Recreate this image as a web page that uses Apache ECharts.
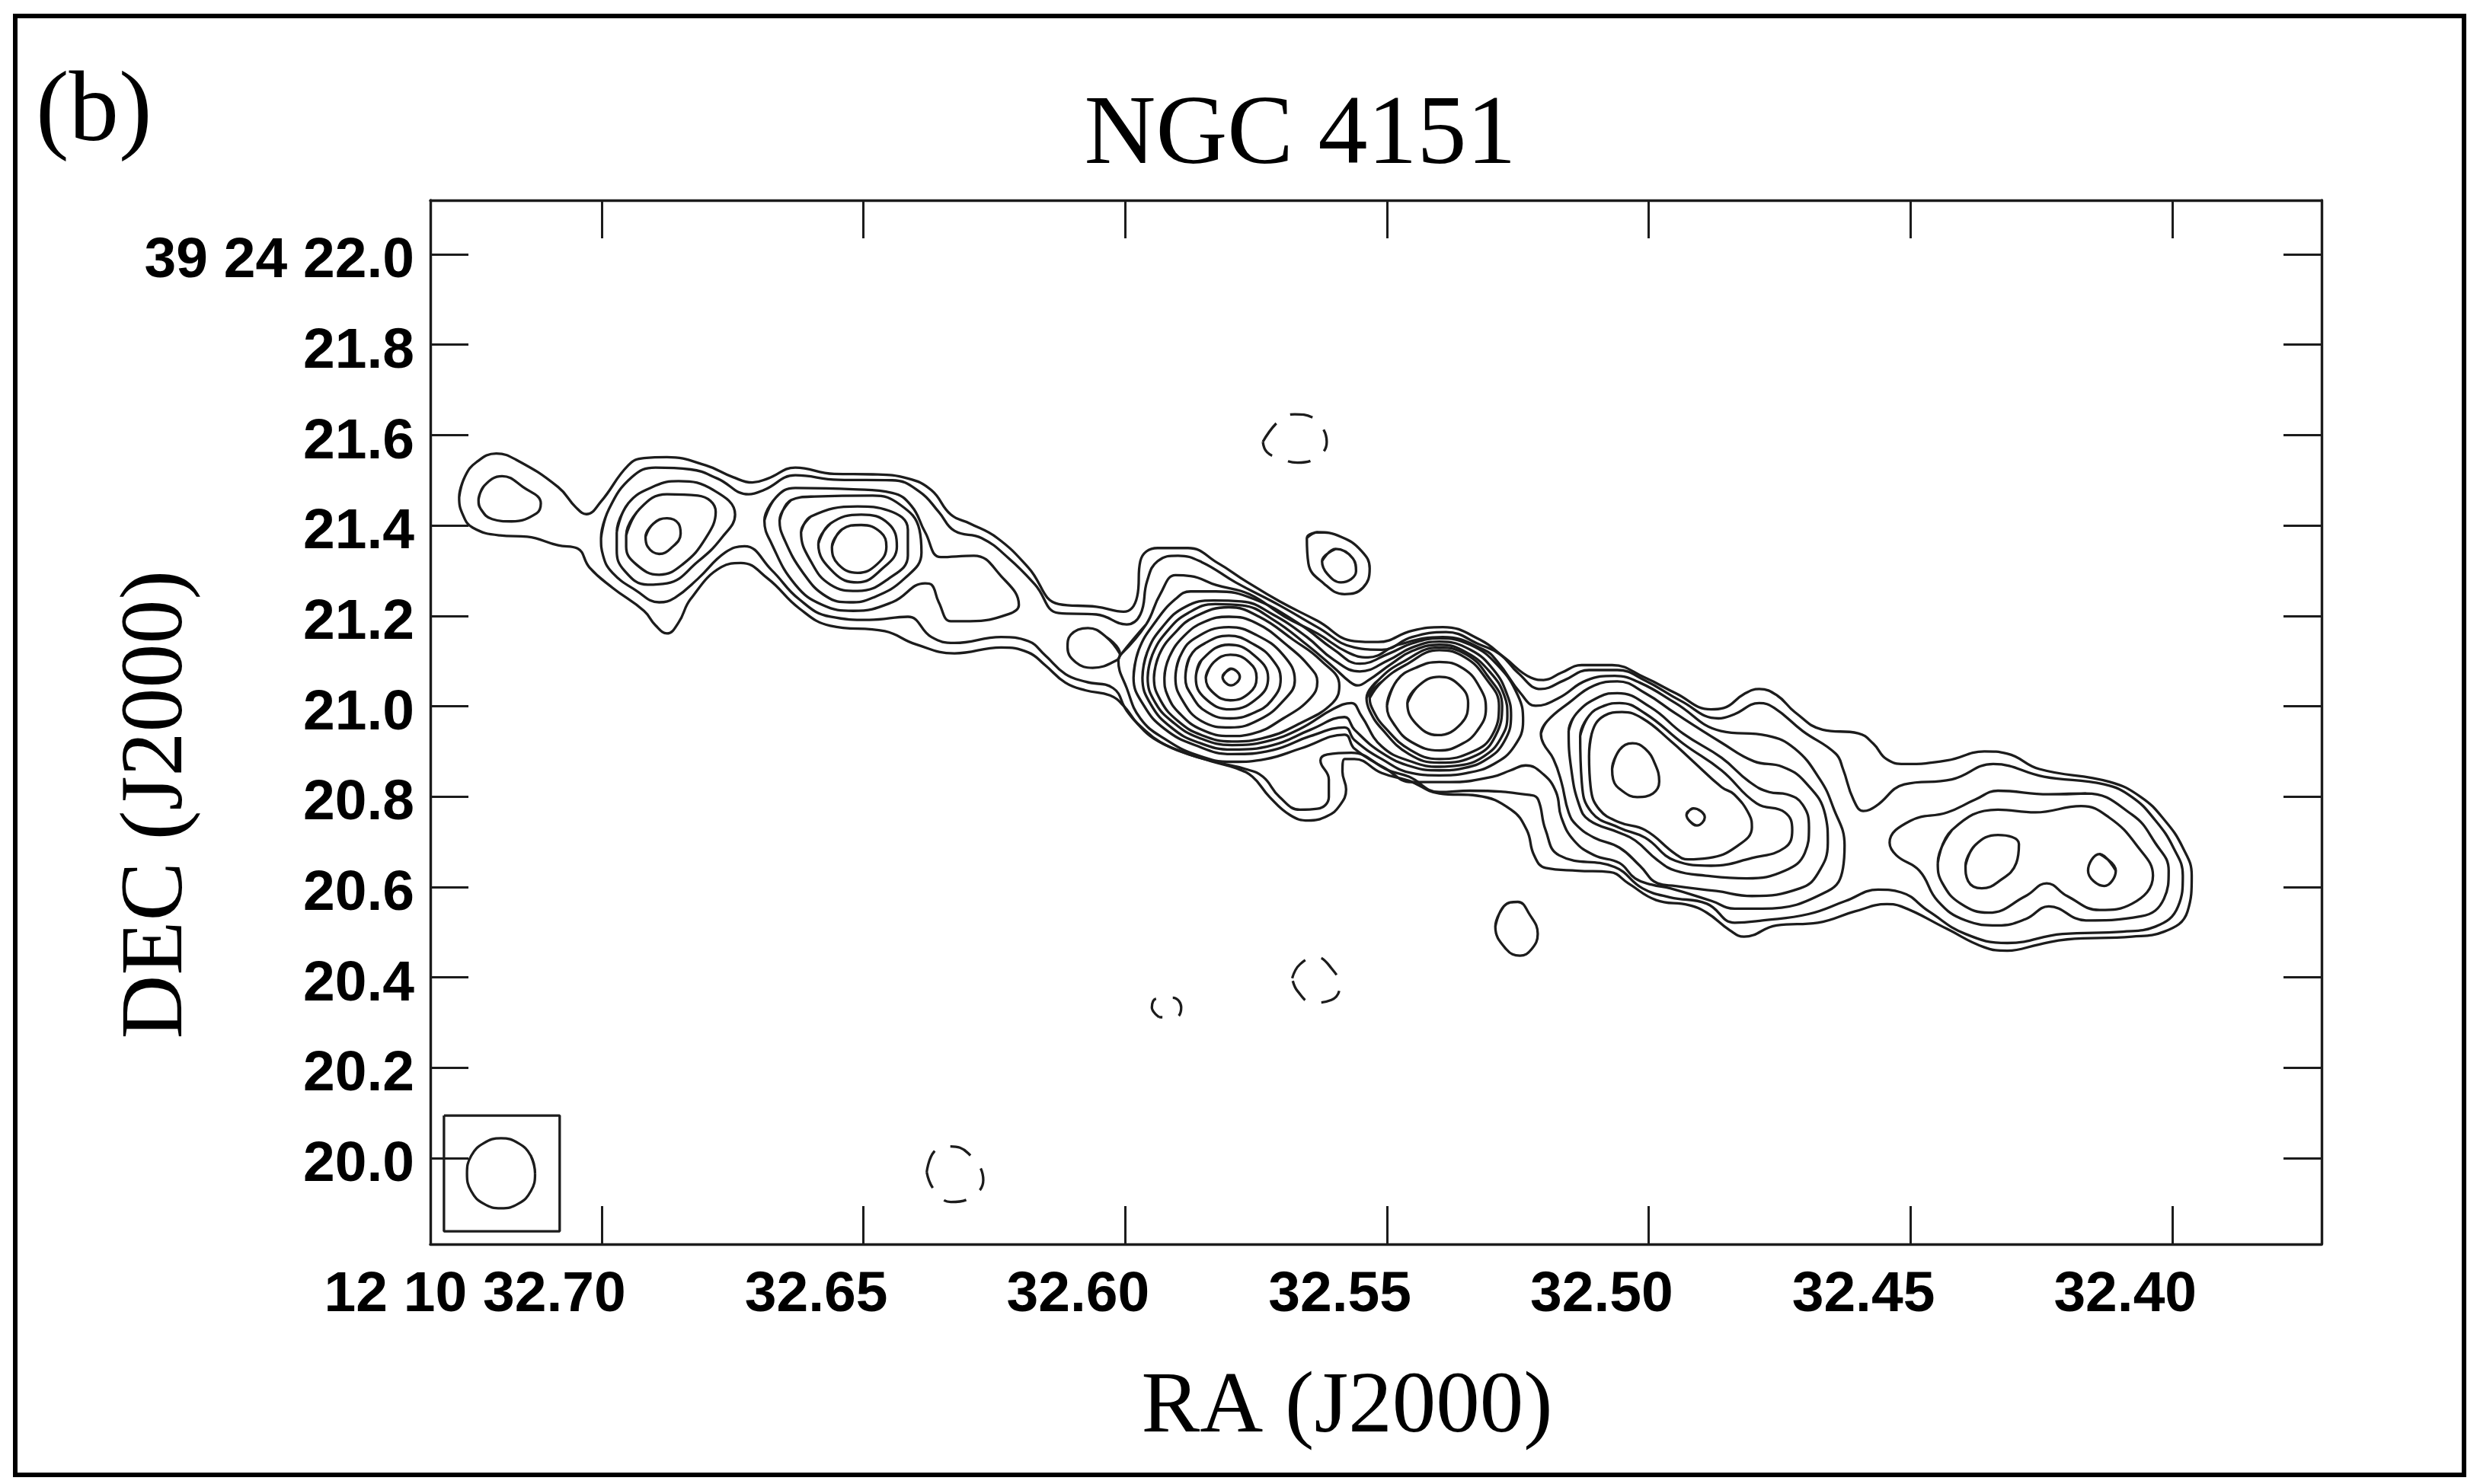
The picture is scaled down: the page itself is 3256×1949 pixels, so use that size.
<!DOCTYPE html>
<html>
<head>
<meta charset="utf-8">
<title>NGC 4151</title>
<script src="https://cdn.jsdelivr.net/npm/echarts@6/dist/echarts.min.js"></script>
<style>
html,body{margin:0;padding:0;background:#fff;}
#main{width:3256px;height:1949px;}
</style>
</head>
<body>
<div id="main"></div>
<script>
var raTicks = [32.70,32.65,32.60,32.55,32.50,32.45,32.40];
var decTicks = [20.0,20.2,20.4,20.6,20.8,21.0,21.2,21.4,21.6,21.8,22.0];

// contours, [RA seconds, DEC seconds]
var outer1 = [[32.7272,21.462],[32.7261,21.508],[32.7239,21.540],[32.7201,21.559],[32.7164,21.546],[32.7083,21.485],[32.7049,21.440],[32.7029,21.425],[32.7001,21.453],[32.6949,21.533],[32.6919,21.549],[32.6875,21.551],[32.6801,21.533],[32.6749,21.507],[32.6712,21.495],[32.6682,21.504],[32.6630,21.528],[32.6556,21.514],[32.6482,21.513],[32.6415,21.504],[32.6370,21.478],[32.6333,21.424],[32.6296,21.404],[32.6244,21.372],[32.6185,21.307],[32.6127,21.226],[32.6055,21.220],[32.6003,21.209],[32.5977,21.243],[32.5971,21.321],[32.5938,21.350],[32.5880,21.350],[32.5822,21.316],[32.5770,21.277],[32.5705,21.232],[32.5633,21.189],[32.5562,21.144],[32.5517,21.142],[32.5452,21.167],[32.5393,21.175],[32.5322,21.147],[32.5276,21.108],[32.5225,21.063],[32.5201,21.058],[32.5167,21.074],[32.5128,21.091],[32.5070,21.091],[32.5007,21.063],[32.4949,21.029],[32.4881,20.993],[32.4857,20.996],[32.4818,21.027],[32.4789,21.038],[32.4755,21.024],[32.4721,20.987],[32.4668,20.948],[32.4600,20.940],[32.4571,20.917],[32.4546,20.883],[32.4512,20.872],[32.4430,20.880],[32.4359,20.900],[32.4315,20.895],[32.4254,20.861],[32.4121,20.833],[32.4060,20.799],[32.4015,20.748],[32.3980,20.687],[32.3963,20.625],[32.3971,20.546],[32.4016,20.501],[32.4077,20.490],[32.4201,20.484],[32.4254,20.473],[32.4315,20.459],[32.4360,20.467],[32.4430,20.507],[32.4518,20.557],[32.4545,20.562],[32.4606,20.546],[32.4677,20.521],[32.4756,20.515],[32.4818,20.490],[32.4845,20.504],[32.4889,20.543],[32.4924,20.560],[32.4986,20.571],[32.5039,20.608],[32.5074,20.633],[32.5136,20.636],[32.5197,20.642],[32.5219,20.670],[32.5233,20.726],[32.5263,20.771],[32.5328,20.802],[32.5400,20.807],[32.5458,20.835],[32.5510,20.852],[32.5562,20.883],[32.5581,20.883],[32.5585,20.855],[32.5578,20.816],[32.5591,20.779],[32.5614,20.757],[32.5650,20.747],[32.5685,20.759],[32.5724,20.799],[32.5757,20.844],[32.5789,20.863],[32.5835,20.878],[32.5893,20.900],[32.5945,20.928],[32.5977,20.962],[32.6003,21.001],[32.6029,21.024],[32.6075,21.035],[32.6114,21.052],[32.6153,21.091],[32.6185,21.119],[32.6237,21.130],[32.6326,21.117],[32.6400,21.137],[32.6459,21.166],[32.6563,21.178],[32.6623,21.217],[32.6682,21.282],[32.6734,21.317],[32.6771,21.308],[32.6830,21.237],[32.6853,21.185],[32.6875,21.161],[32.6897,21.179],[32.6919,21.211],[32.6979,21.262],[32.7023,21.307],[32.7046,21.349],[32.7083,21.356],[32.7142,21.375],[32.7194,21.378],[32.7246,21.395],[32.7265,21.424]];
var outer2 = [[32.7001,21.372],[32.6986,21.436],[32.6942,21.507],[32.6897,21.528],[32.6830,21.524],[32.6779,21.504],[32.6719,21.469],[32.6689,21.479],[32.6630,21.511],[32.6548,21.501],[32.6445,21.500],[32.6393,21.475],[32.6356,21.430],[32.6326,21.388],[32.6274,21.372],[32.6222,21.327],[32.6172,21.269],[32.6127,21.206],[32.6055,21.203],[32.5997,21.181],[32.5971,21.203],[32.5958,21.277],[32.5938,21.321],[32.5899,21.333],[32.5854,21.319],[32.5789,21.274],[32.5705,21.223],[32.5633,21.175],[32.5562,21.130],[32.5510,21.125],[32.5452,21.153],[32.5387,21.164],[32.5322,21.136],[32.5283,21.114],[32.5250,21.074],[32.5206,21.038],[32.5162,21.057],[32.5114,21.080],[32.5060,21.080],[32.5007,21.057],[32.4939,21.012],[32.4867,20.973],[32.4837,20.982],[32.4789,21.007],[32.4760,20.996],[32.4706,20.945],[32.4643,20.895],[32.4629,20.861],[32.4609,20.793],[32.4590,20.768],[32.4566,20.779],[32.4512,20.827],[32.4421,20.838],[32.4342,20.872],[32.4245,20.844],[32.4130,20.827],[32.4077,20.799],[32.4033,20.748],[32.3998,20.687],[32.3980,20.625],[32.3989,20.557],[32.4033,20.512],[32.4095,20.501],[32.4210,20.496],[32.4315,20.476],[32.4395,20.496],[32.4465,20.546],[32.4518,20.588],[32.4562,20.594],[32.4624,20.569],[32.4695,20.540],[32.4783,20.526],[32.4836,20.521],[32.4889,20.563],[32.4959,20.577],[32.5012,20.597],[32.5065,20.644],[32.5171,20.670],[32.5197,20.726],[32.5211,20.793],[32.5224,20.803],[32.5341,20.813],[32.5400,20.810],[32.5458,20.844],[32.5497,20.858],[32.5568,20.897],[32.5614,20.893],[32.5627,20.880],[32.5611,20.838],[32.5611,20.799],[32.5633,20.773],[32.5666,20.771],[32.5705,20.799],[32.5737,20.844],[32.5770,20.861],[32.5822,20.875],[32.5880,20.894],[32.5932,20.920],[32.5968,20.953],[32.5997,20.990],[32.6023,21.040],[32.6075,21.054],[32.6114,21.071],[32.6153,21.113],[32.6185,21.144],[32.6237,21.153],[32.6326,21.140],[32.6370,21.153],[32.6415,21.198],[32.6489,21.191],[32.6563,21.198],[32.6623,21.237],[32.6675,21.301],[32.6727,21.354],[32.6764,21.340],[32.6816,21.282],[32.6860,21.240],[32.6890,21.230],[32.6934,21.256],[32.6979,21.295],[32.6997,21.333]];
var leftBlob = [[32.7235,21.456],[32.7224,21.488],[32.7190,21.509],[32.7150,21.485],[32.7116,21.449],[32.7124,21.427],[32.7172,21.409],[32.7209,21.414],[32.7231,21.437]];

var knot2a = [[32.6971,21.385],[32.6949,21.449],[32.6897,21.488],[32.6853,21.498],[32.6786,21.478],[32.6745,21.424],[32.6771,21.372],[32.6816,21.320],[32.6875,21.272],[32.6912,21.269],[32.6957,21.301],[32.6971,21.346]];
var knot2b = [[32.6953,21.378],[32.6927,21.437],[32.6875,21.469],[32.6816,21.466],[32.6782,21.430],[32.6801,21.372],[32.6845,21.314],[32.6890,21.291],[32.6934,21.314],[32.6953,21.353]];
var knot2c = [[32.6916,21.375],[32.6901,21.404],[32.6875,21.416],[32.6853,21.404],[32.6849,21.382],[32.6868,21.349],[32.6890,21.337],[32.6912,21.353]];

var knot3a = [[32.6689,21.411],[32.6667,21.462],[32.6630,21.483],[32.6519,21.480],[32.6445,21.472],[32.6408,21.443],[32.6382,21.385],[32.6352,21.330],[32.6289,21.333],[32.6237,21.288],[32.6203,21.224],[32.6222,21.204],[32.6296,21.188],[32.6333,21.188],[32.6356,21.230],[32.6370,21.269],[32.6382,21.272],[32.6445,21.230],[32.6519,21.211],[32.6578,21.224],[32.6630,21.269],[32.6675,21.359]];
var knot3b = [[32.6660,21.411],[32.6638,21.456],[32.6593,21.464],[32.6482,21.466],[32.6430,21.446],[32.6393,21.391],[32.6389,21.340],[32.6422,21.282],[32.6482,21.240],[32.6526,21.230],[32.6571,21.243],[32.6615,21.295],[32.6652,21.372]];
var knot3c = [[32.6619,21.385],[32.6600,21.420],[32.6511,21.442],[32.6452,21.433],[32.6415,21.391],[32.6415,21.333],[32.6452,21.282],[32.6511,21.255],[32.6563,21.269],[32.6600,21.320]];
var knot3d = [[32.6586,21.359],[32.6563,21.404],[32.6504,21.424],[32.6452,21.404],[32.6436,21.353],[32.6467,21.301],[32.6511,21.274],[32.6556,21.295]];
var knot3e = [[32.6560,21.353],[32.6541,21.391],[32.6504,21.401],[32.6467,21.385],[32.6456,21.353],[32.6474,21.314],[32.6511,21.295],[32.6548,21.314]];

var nubOuter = [[32.5653,21.372],[32.5633,21.385],[32.5588,21.375],[32.5549,21.344],[32.5533,21.305],[32.5546,21.262],[32.5581,21.248],[32.5620,21.271],[32.5650,21.316]];
var nubInner = [[32.5624,21.321],[32.5598,21.348],[32.5565,21.327],[32.5559,21.299],[32.5588,21.274],[32.5614,21.293]];
var southOval = [[32.5293,20.512],[32.5277,20.557],[32.5250,20.567],[32.5228,20.540],[32.5212,20.496],[32.5224,20.462],[32.5246,20.448],[32.5272,20.462]];

var westLobe3 = [[32.4236,20.805],[32.4165,20.807],[32.4077,20.760],[32.4033,20.698],[32.4007,20.636],[32.4016,20.574],[32.4060,20.535],[32.4165,20.526],[32.4236,20.557],[32.4280,20.529],[32.4333,20.515],[32.4395,20.526],[32.4448,20.569],[32.4483,20.636],[32.4527,20.670],[32.4540,20.698],[32.4501,20.746],[32.4430,20.765],[32.4377,20.793],[32.4333,20.813]];
var westLobe4 = [[32.4448,20.653],[32.4421,20.726],[32.4333,20.771],[32.4262,20.765],[32.4174,20.779],[32.4121,20.754],[32.4068,20.692],[32.4037,20.625],[32.4077,20.563],[32.4139,20.549],[32.4201,20.580],[32.4240,20.608],[32.4280,20.580],[32.4351,20.543],[32.4404,20.563],[32.4439,20.608]];
var westPeakA = [[32.4395,20.647],[32.4377,20.692],[32.4333,20.715],[32.4293,20.695],[32.4298,20.653],[32.4333,20.611],[32.4364,20.597],[32.4390,20.613]];
var westPeakB = [[32.4139,20.673],[32.4108,20.636],[32.4130,20.602],[32.4161,20.636]];

var midLobe4 = [[32.5206,20.939],[32.5194,20.967],[32.5153,21.007],[32.5104,21.046],[32.5060,21.055],[32.5007,21.029],[32.4949,20.984],[32.4862,20.920],[32.4799,20.878],[32.4745,20.866],[32.4702,20.833],[32.4663,20.760],[32.4658,20.698],[32.4677,20.630],[32.4711,20.597],[32.4803,20.580],[32.4871,20.591],[32.4949,20.602],[32.4983,20.608],[32.5017,20.647],[32.5056,20.687],[32.5104,20.709],[32.5138,20.737],[32.5153,20.765],[32.5167,20.833],[32.5182,20.883],[32.5201,20.917]];
var midLobe5 = [[32.5153,20.945],[32.5138,20.984],[32.5094,21.021],[32.5060,21.029],[32.4997,20.998],[32.4934,20.939],[32.4861,20.886],[32.4808,20.833],[32.4770,20.810],[32.4736,20.805],[32.4706,20.782],[32.4694,20.732],[32.4702,20.675],[32.4740,20.636],[32.4813,20.619],[32.4891,20.625],[32.4949,20.636],[32.4983,20.659],[32.5026,20.703],[32.5056,20.720],[32.5114,20.748],[32.5133,20.782],[32.5148,20.861]];
var midLobe6 = [[32.5131,20.934],[32.5114,20.979],[32.5085,21.001],[32.5056,21.007],[32.5007,20.984],[32.4934,20.917],[32.4861,20.858],[32.4794,20.785],[32.4740,20.765],[32.4726,20.726],[32.4740,20.687],[32.4803,20.664],[32.4881,20.647],[32.4949,20.658],[32.5007,20.709],[32.5056,20.731],[32.5109,20.765],[32.5128,20.833]];
var midLobe7 = [[32.5114,20.889],[32.5109,20.939],[32.5085,20.979],[32.5051,20.987],[32.5012,20.973],[32.4958,20.923],[32.4920,20.883],[32.4861,20.821],[32.4837,20.805],[32.4808,20.760],[32.4803,20.732],[32.4833,20.689],[32.4886,20.664],[32.4925,20.661],[32.4949,20.673],[32.5007,20.726],[32.5056,20.743],[32.5094,20.771],[32.5111,20.821]];
var midPeak = [[32.5070,20.861],[32.5056,20.903],[32.5031,20.918],[32.5007,20.906],[32.4988,20.872],[32.4980,20.833],[32.4992,20.807],[32.5022,20.799],[32.5051,20.813],[32.5068,20.838]];
var midTiny = [[32.4928,20.760],[32.4915,20.774],[32.4893,20.754],[32.4908,20.736],[32.4922,20.746]];

var core3 = [[32.6007,21.116],[32.5960,21.181],[32.5933,21.248],[32.5904,21.290],[32.5875,21.288],[32.5826,21.268],[32.5763,21.248],[32.5695,21.198],[32.5633,21.161],[32.5575,21.119],[32.5536,21.108],[32.5478,21.136],[32.5393,21.153],[32.5315,21.125],[32.5288,21.097],[32.5245,21.029],[32.5216,21.001],[32.5172,21.018],[32.5119,21.057],[32.5065,21.067],[32.5017,21.052],[32.4949,21.007],[32.4862,20.945],[32.4774,20.935],[32.4721,20.906],[32.4673,20.838],[32.4648,20.777],[32.4626,20.692],[32.4629,20.642],[32.4658,20.591],[32.4783,20.552],[32.4836,20.552],[32.4880,20.569],[32.4959,20.597],[32.4994,20.605],[32.5026,20.619],[32.5056,20.653],[32.5104,20.670],[32.5143,20.703],[32.5167,20.754],[32.5177,20.810],[32.5201,20.849],[32.5235,20.869],[32.5264,20.858],[32.5298,20.844],[32.5380,20.832],[32.5452,20.832],[32.5504,20.863],[32.5562,20.906],[32.5581,20.937],[32.5666,20.906],[32.5731,20.883],[32.5796,20.877],[32.5861,20.891],[32.5925,20.928],[32.5971,20.973],[32.5997,21.040],[32.6013,21.102]];
var gapBlob = [[32.6010,21.116],[32.6036,21.153],[32.6071,21.173],[32.6104,21.158],[32.6110,21.130],[32.6094,21.097],[32.6062,21.085],[32.6016,21.102]];
var core4 = [[32.5984,21.063],[32.5974,21.125],[32.5942,21.187],[32.5904,21.237],[32.5875,21.254],[32.5827,21.254],[32.5754,21.237],[32.5666,21.181],[32.5601,21.125],[32.5552,21.094],[32.5497,21.116],[32.5452,21.139],[32.5400,21.150],[32.5341,21.136],[32.5289,21.091],[32.5250,21.024],[32.5240,20.967],[32.5257,20.911],[32.5296,20.872],[32.5348,20.852],[32.5400,20.847],[32.5452,20.852],[32.5510,20.883],[32.5562,20.925],[32.5581,20.953],[32.5646,20.934],[32.5718,20.903],[32.5796,20.894],[32.5867,20.914],[32.5925,20.950],[32.5964,21.001]];
var core5 = [[32.5967,21.063],[32.5958,21.119],[32.5929,21.175],[32.5885,21.220],[32.5831,21.234],[32.5778,21.232],[32.5718,21.203],[32.5653,21.153],[32.5601,21.102],[32.5552,21.077],[32.5497,21.102],[32.5452,21.130],[32.5400,21.143],[32.5341,21.125],[32.5296,21.080],[32.5270,21.024],[32.5263,20.979],[32.5276,20.922],[32.5309,20.883],[32.5354,20.863],[32.5400,20.858],[32.5452,20.866],[32.5510,20.897],[32.5562,20.948],[32.5581,20.976],[32.5646,20.948],[32.5718,20.914],[32.5796,20.904],[32.5861,20.920],[32.5912,20.953],[32.5951,21.004]];
var core6 = [[32.5957,21.063],[32.5948,21.114],[32.5919,21.167],[32.5880,21.206],[32.5828,21.226],[32.5776,21.223],[32.5718,21.192],[32.5653,21.136],[32.5601,21.085],[32.5572,21.055],[32.5556,21.046],[32.5536,21.057],[32.5491,21.094],[32.5452,21.122],[32.5400,21.136],[32.5348,21.119],[32.5302,21.074],[32.5276,21.024],[32.5270,20.979],[32.5283,20.928],[32.5315,20.889],[32.5361,20.869],[32.5400,20.866],[32.5452,20.877],[32.5510,20.911],[32.5549,20.979],[32.5568,21.007],[32.5601,20.995],[32.5666,20.950],[32.5731,20.922],[32.5796,20.914],[32.5861,20.931],[32.5906,20.962],[32.5942,21.007]];

var peakA7 = [[32.5945,21.063],[32.5935,21.114],[32.5906,21.161],[32.5867,21.198],[32.5802,21.219],[32.5744,21.198],[32.5679,21.147],[32.5627,21.102],[32.5591,21.046],[32.5604,21.007],[32.5666,20.962],[32.5731,20.931],[32.5796,20.922],[32.5854,20.936],[32.5899,20.967],[32.5932,21.012]];
var peakA8 = [[32.5925,21.063],[32.5916,21.108],[32.5887,21.156],[32.5848,21.187],[32.5802,21.198],[32.5750,21.184],[32.5692,21.136],[32.5646,21.085],[32.5633,21.054],[32.5646,21.018],[32.5698,20.973],[32.5757,20.939],[32.5799,20.934],[32.5854,20.948],[32.5896,20.984],[32.5919,21.024]];
var peakA9 = [[32.5904,21.063],[32.5896,21.108],[32.5867,21.150],[32.5802,21.175],[32.5750,21.158],[32.5698,21.113],[32.5676,21.057],[32.5698,21.012],[32.5744,20.970],[32.5799,20.953],[32.5854,20.967],[32.5890,21.012]];
var peakA10 = [[32.5885,21.063],[32.5877,21.108],[32.5848,21.139],[32.5802,21.156],[32.5753,21.136],[32.5718,21.102],[32.5703,21.060],[32.5721,21.012],[32.5757,20.984],[32.5799,20.973],[32.5844,20.987],[32.5873,21.024]];
var peakA11 = [[32.5865,21.063],[32.5854,21.102],[32.5802,21.136],[32.5757,21.116],[32.5727,21.063],[32.5744,21.021],[32.5799,20.993],[32.5848,21.018]];
var peakA12 = [[32.5846,21.063],[32.5831,21.097],[32.5799,21.114],[32.5763,21.097],[32.5749,21.063],[32.5763,21.029],[32.5799,21.013],[32.5831,21.029]];
var peakA13 = [[32.5814,21.065],[32.5798,21.083],[32.5781,21.065],[32.5798,21.046]];

var peakB3 = [[32.5539,21.018],[32.5517,21.057],[32.5471,21.097],[32.5400,21.130],[32.5348,21.114],[32.5309,21.069],[32.5280,21.001],[32.5293,20.934],[32.5328,20.892],[32.5400,20.875],[32.5458,20.894],[32.5510,20.950],[32.5533,20.990]];
var peakB4 = [[32.5533,21.018],[32.5510,21.054],[32.5465,21.091],[32.5400,21.124],[32.5351,21.108],[32.5312,21.063],[32.5286,21.001],[32.5299,20.936],[32.5335,20.900],[32.5400,20.883],[32.5455,20.903],[32.5504,20.953],[32.5526,20.990]];
var peakB2 = [[32.5500,21.001],[32.5481,21.057],[32.5445,21.085],[32.5400,21.098],[32.5354,21.083],[32.5322,21.040],[32.5311,20.995],[32.5328,20.945],[32.5361,20.914],[32.5400,20.902],[32.5452,20.920],[32.5484,20.956]];
var peakB1 = [[32.5461,21.007],[32.5439,21.046],[32.5400,21.065],[32.5364,21.049],[32.5345,21.007],[32.5358,20.962],[32.5403,20.936],[32.5445,20.962]];

// negative levels, dashed
var negNorth = [[32.5737,21.585],[32.5705,21.633],[32.5676,21.646],[32.5642,21.639],[32.5623,21.616],[32.5615,21.585],[32.5632,21.552],[32.5671,21.539],[32.5705,21.549],[32.5729,21.562]];
var negSouth = [[32.5681,20.398],[32.5666,20.429],[32.5635,20.445],[32.5606,20.420],[32.5590,20.381],[32.5606,20.350],[32.5642,20.344],[32.5671,20.370]];
var negSmall = [[32.5935,20.312],[32.5949,20.333],[32.5940,20.353],[32.5909,20.355],[32.5893,20.333],[32.5904,20.311]];
var negFar = [[32.6379,19.969],[32.6365,20.014],[32.6337,20.026],[32.6300,20.011],[32.6271,19.951],[32.6296,19.912],[32.6333,19.903],[32.6365,19.930]];

// beam inset
var beamBox = [[32.7301,20.0943],[32.7080,20.0943],[32.7080,19.8382],[32.7301,19.8382],[32.7301,20.0943]];
var beam = [[32.7127,19.966],[32.7135,20.005],[32.7159,20.033],[32.7192,20.044],[32.7225,20.033],[32.7249,20.005],[32.7257,19.966],[32.7249,19.927],[32.7225,19.899],[32.7192,19.889],[32.7159,19.899],[32.7135,19.927]];

var solidLines = [outer1,outer2,leftBlob,knot2a,knot2b,knot2c,knot3a,knot3b,knot3c,knot3d,knot3e,nubOuter,nubInner,southOval,westLobe3,westLobe4,westPeakA,westPeakB,midLobe4,midLobe5,midLobe6,midLobe7,midPeak,midTiny,core3,gapBlob,core4,core5,core6,peakA7,peakA8,peakA9,peakA10,peakA11,peakA12,peakA13,peakB3,peakB4,peakB2,peakB1,beam];
var dashedLines = [negNorth,negSouth,negSmall,negFar];

var lineColor = '#1c1c1c';
var serifFont = '"Liberation Serif", serif';
var sansFont = '"Liberation Sans", sans-serif';

var makeLine = function(pts, dashed){
    return {
        type: 'line',
        data: dashed ? pts.concat([pts[0]]) : pts.concat([pts[0], pts[1]]),
        smooth: 0.45,
        showSymbol: false,
        symbol: 'none',
        silent: true,
        animation: false,
        lineStyle: {color: lineColor, width: 3.3, type: dashed ? [30, 22] : 'solid'}
    };
};

var seriesList = [];
for(var i=0;i < solidLines.length;i++){
    seriesList.push(makeLine(solidLines[i], false));
}
for(var j=0;j < dashedLines.length;j++){
    seriesList.push(makeLine(dashedLines[j], true));
}
seriesList.push({
    type: 'line',
    data: beamBox,
    showSymbol: false,
    symbol: 'none',
    silent: true,
    animation: false,
    lineStyle: {color: lineColor, width: 3.3}
});

var xMin = 32.3715, xMax = 32.7327, yMin = 19.8096, yMax = 22.1196;

var frameLine = {show: true, onZero: false, lineStyle: {color: lineColor, width: 3.4}};
var tickStyle = {color: lineColor, width: 3};

var option = {
    backgroundColor: '#fff',
    animation: false,
    title: [
        {text: 'NGC 4151', left: 1702, top: 110, textAlign: 'center', textStyle: {fontFamily: serifFont, fontSize: 130, fontWeight: 'normal', color: '#000'}},
        {text: '(b)', left: 42, top: 79, textStyle: {fontFamily: serifFont, fontSize: 131, fontWeight: 'normal', color: '#000'}}
    ],
    grid: {left: 565, top: 263, width: 2483, height: 1371},
    xAxis: [{
        type: 'value',
        position: 'bottom',
        inverse: true,
        min: xMin,
        max: xMax,
        name: 'RA (J2000)',
        nameLocation: 'middle',
        nameGap: 158,
        nameTextStyle: {fontFamily: serifFont, fontSize: 115, color: '#000', padding: [0, 76, 0, 0]},
        axisLine: frameLine,
        axisTick: {inside: true, length: 50, lineStyle: tickStyle, customValues: raTicks},
        axisLabel: {
            fontFamily: sansFont, fontWeight: 'bold', fontSize: 75, color: '#000', margin: 30,
            align: 'right', padding: [0, -32, 0, 0], customValues: raTicks,
            formatter: function(v){
                return Math.abs(v - 32.70) < 1e-6 ? '12 10 32.70' : v.toFixed(2);
            }
        },
        splitLine: {show: false}
    },{
        type: 'value',
        position: 'top',
        inverse: true,
        min: xMin,
        max: xMax,
        axisLine: frameLine,
        axisTick: {inside: true, length: 50, lineStyle: tickStyle, customValues: raTicks},
        axisLabel: {show: false},
        splitLine: {show: false}
    }],
    yAxis: [{
        type: 'value',
        position: 'left',
        min: yMin,
        max: yMax,
        name: 'DEC (J2000)',
        nameLocation: 'middle',
        nameGap: 299,
        nameMoveOverlap: false,
        nameTextStyle: {fontFamily: serifFont, fontSize: 116, color: '#000', padding: [0, 216, 0, 0]},
        axisLine: frameLine,
        axisTick: {inside: true, length: 50, lineStyle: tickStyle, customValues: decTicks},
        axisLabel: {
            fontFamily: sansFont, fontWeight: 'bold', fontSize: 75, color: '#000', margin: 21,
            verticalAlign: 'top', padding: [-28, 0, 0, 0], customValues: decTicks,
            formatter: function(v){
                return Math.abs(v - 22) < 1e-6 ? '39 24 22.0' : v.toFixed(1);
            }
        },
        splitLine: {show: false}
    },{
        type: 'value',
        position: 'right',
        min: yMin,
        max: yMax,
        axisLine: frameLine,
        axisTick: {inside: true, length: 50, lineStyle: tickStyle, customValues: decTicks},
        axisLabel: {show: false},
        splitLine: {show: false}
    }],
    graphic: [{
        type: 'rect',
        silent: true,
        shape: {x: 20, y: 21, width: 3215, height: 1916},
        style: {fill: 'none', stroke: '#000', lineWidth: 6}
    }],
    series: seriesList
};

var myChart = echarts.init(document.getElementById('main'), null, {renderer: 'canvas'});
myChart.setOption(option);
</script>
</body>
</html>
